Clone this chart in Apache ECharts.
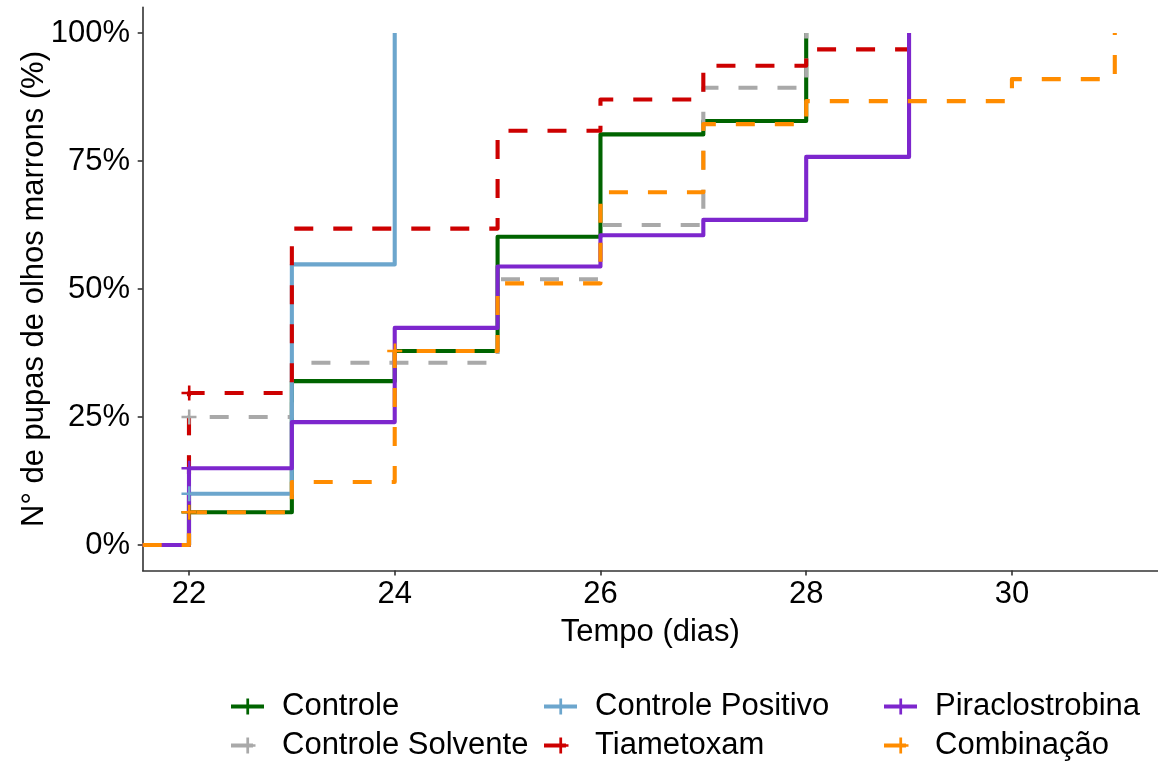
<!DOCTYPE html>
<html><head><meta charset="utf-8">
<script src="https://cdn.jsdelivr.net/npm/echarts@6/dist/echarts.min.js"></script>
<style>html,body{margin:0;padding:0;background:#fff}#c{width:1158px;height:765px}</style>
</head><body><div id="c"></div>
<script>
// ---- data ----
const seriesNames = ['Controle', 'Controle Solvente', 'Controle Positivo', 'Tiametoxam', 'Piraclostrobina', 'Combinação'];
const seriesColors = ['#006400', '#A9A9A9', '#6CA6CD', '#CD0000', '#7D26CD', '#FF8C00'];
const seriesDashed = [false, true, false, true, false, true];

const timesControle = [22, 23, 24, 25, 26, 27, 28];
const valuesControle = [6.4, 32.0, 37.9, 60.2, 80.2, 82.8, 100];
const censorControle = [22];

const timesSolvente = [22, 23, 25, 26, 27, 28];
const valuesSolvente = [25.0, 35.6, 51.9, 62.5, 89.3, 100];
const censorSolvente = [22];

const timesPositivo = [22, 23, 24];
const valuesPositivo = [10.0, 54.8, 100];
const censorPositivo = [22];

const timesTiametoxam = [22, 23, 25, 26, 27, 28, 29];
const valuesTiametoxam = [29.7, 61.8, 80.9, 87.0, 93.6, 96.8, 96.8];
const censorTiametoxam = [22];

const timesPiraclostrobina = [22, 23, 24, 25, 26, 27, 28, 29];
const valuesPiraclostrobina = [15.0, 24.0, 42.4, 54.4, 60.5, 63.5, 75.8, 100];
const censorPiraclostrobina = [22];

const timesCombinacao = [22, 23, 24, 25, 26, 27, 28, 30, 31];
const valuesCombinacao = [6.4, 12.3, 37.9, 51.1, 68.9, 82.2, 86.7, 91.0, 100];
const censorCombinacao = [22, 24];

const xTicks = [22, 24, 26, 28, 30];
const yTicks = [0, 25, 50, 75, 100];

const allTimes = [timesControle, timesSolvente, timesPositivo, timesTiametoxam, timesPiraclostrobina, timesCombinacao];
const allValues = [valuesControle, valuesSolvente, valuesPositivo, valuesTiametoxam, valuesPiraclostrobina, valuesCombinacao];
const allCensor = [censorControle, censorSolvente, censorPositivo, censorTiametoxam, censorPiraclostrobina, censorCombinacao];

// legend layout: column-wise, 2 rows x 3 columns
const legendLefts = [229, 229, 542, 542, 882, 882];
const legendTops = [691, 730, 691, 730, 691, 730];

// ---- chart ----
const X_MIN = 21.55, X_MAX = 31.42;
const PLUS = 'path://M6,0h2.4v14h-2.4zM0,5.8h14v2.4h-14z';
const FONT = 'Liberation Sans, Arial, sans-serif';

const series = seriesNames.map((name, i) => {
  const data = [{ value: [X_MIN, 0], symbol: 'none' }];
  allTimes[i].forEach((t, k) => {
    data.push({ value: [t, allValues[i][k]], symbol: allCensor[i].includes(t) ? PLUS : 'none' });
  });
  return {
    name, type: 'line', step: 'end', data,
    symbol: PLUS, symbolSize: 15, showSymbol: true, symbolKeepAspect: true,
    color: seriesColors[i],
    itemStyle: { color: seriesColors[i], borderWidth: 0 },
    lineStyle: { width: 4.1, color: seriesColors[i], type: seriesDashed[i] ? [19, 20] : 'solid', cap: 'butt', join: 'round' },
    clip: true, animation: false, silent: true
  };
});

const legends = seriesNames.map((name, i) => ({
  data: [name], left: legendLefts[i], top: legendTops[i],
  orient: 'horizontal', padding: 0, itemWidth: 33, itemHeight: 20, selectedMode: false,
  lineStyle: { width: 4, color: seriesColors[i], type: seriesDashed[i] ? [22, 20] : 'solid', cap: 'butt' },
  textStyle: { fontSize: 31, color: '#000', fontFamily: FONT, padding: [0, 0, 0, 13], lineHeight: 30 }
}));

const chart = echarts.init(document.getElementById('c'), null, { renderer: 'canvas' });
chart.setOption({
  animation: false,
  backgroundColor: '#fff',
  textStyle: { fontFamily: FONT },
  grid: { left: 142.7, right: 0, top: 7.4, bottom: 194.4, containLabel: false },
  xAxis: {
    type: 'value', min: X_MIN, max: X_MAX,
    axisLine: { show: true, onZero: false, lineStyle: { color: '#333', width: 1.6 } },
    axisTick: { show: true, customValues: xTicks, length: 5, lineStyle: { color: '#333', width: 1.6 } },
    axisLabel: { customValues: xTicks, fontSize: 31, color: '#000', margin: 8, fontFamily: FONT },
    splitLine: { show: false },
    name: 'Tempo (dias)', nameLocation: 'middle', nameGap: 46, nameMoveOverlap: false,
    nameTextStyle: { fontSize: 31, color: '#000', fontFamily: FONT }
  },
  yAxis: {
    type: 'value', min: -5, max: 105,
    axisLine: { show: true, onZero: false, lineStyle: { color: '#333', width: 1.6 } },
    axisTick: { show: true, customValues: yTicks, length: 5, lineStyle: { color: '#333', width: 1.6 } },
    axisLabel: { customValues: yTicks, formatter: '{value}%', fontSize: 31, color: '#000', margin: 12.7, fontFamily: FONT },
    splitLine: { show: false },
    name: 'N° de pupas de olhos marrons (%)', nameLocation: 'middle', nameGap: 93, nameMoveOverlap: false,
    nameTextStyle: { fontSize: 31, color: '#000', fontFamily: FONT }
  },
  legend: legends,
  series
});
</script></body></html>
